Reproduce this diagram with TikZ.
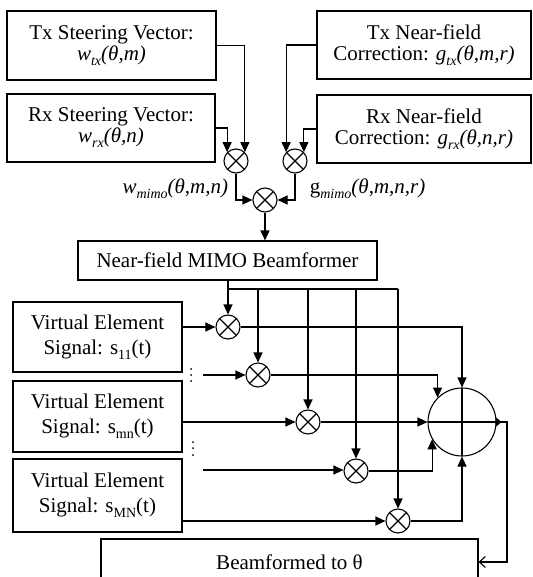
\documentclass[tikz,border=0pt]{standalone}
\usepackage{fontspec}
\setmainfont{Liberation Serif}
\usetikzlibrary{arrows.meta}
\newcommand\mysub[1]{\raisebox{-5pt}{\fontsize{14}{14}\selectfont #1}}
\begin{document}
\begin{tikzpicture}[x=1pt,y=-1pt,
  font=\fontsize{21}{21}\selectfont, line width=1.1pt,
  box/.style={draw, rectangle, inner sep=0pt, align=center},
  mult/.style={draw, circle, minimum size=24pt, inner sep=0pt,
    path picture={\draw (path picture bounding box.north west)--(path picture bounding box.south east)
      (path picture bounding box.north east)--(path picture bounding box.south west);}},
  adder/.style={draw, circle, minimum size=68pt, inner sep=0pt,
    path picture={\draw (path picture bounding box.north)--(path picture bounding box.south)
      (path picture bounding box.west)--(path picture bounding box.east);}},
  arr/.style={-{Triangle[length=10pt,width=9pt]}},
  oarr/.style={-{Straight Barb[length=6pt,width=11pt]}},
  dotmark/.style={fill, circle, inner sep=0pt, minimum size=2pt},
]
\useasboundingbox (0,0) rectangle (532,577);

% top boxes
\node[box, minimum width=209pt, minimum height=69pt] (txsv) at (111.5,45.5)
  {Tx Steering Vector:\\\textit{w\mysub{tx}(θ,m)}};
\node[box, minimum width=208pt, minimum height=68pt] (rxsv) at (111,128)
  {Rx Steering Vector:\\\textit{w\mysub{rx}(θ,n)}};
\node[box, minimum width=214pt, minimum height=68pt] (txnf) at (424,45)
  {Tx Near-field\\Correction: \textit{g\mysub{tx}(θ,m,r)}};
\node[box, minimum width=214pt, minimum height=68pt] (rxnf) at (424,129)
  {Rx Near-field\\Correction: \textit{g\mysub{rx}(θ,n,r)}};

% multipliers
\node[mult] (m1) at (236,161) {};
\node[mult] (m2) at (295,161) {};
\node[mult] (m3) at (265,200) {};

\draw[arr] (txsv.east) -| (m1.north east);
\draw[arr] (rxsv.east) -| (m1.north west);
\draw[arr] (txnf.west) -| (m2.north west);
\draw[arr] (rxnf.west) -| (m2.north east);
\draw[arr] (m1.south) |- (m3.west);
\draw[arr] (m2.south) |- (m3.east);

\node[anchor=east] (wl) at (232,189) {\textit{w\mysub{mimo}(θ,m,n)}};
\node[anchor=west] (gl) at (306,189) {g\textit{\mysub{mimo}(θ,m,n,r)}};

% beamformer
\node[box, minimum width=299pt, minimum height=39pt] (bf) at (227.5,260.5) {Near-field MIMO Beamformer};
\draw[arr] (m3.south) -- (m3.south |- bf.north);

% virtual elements
\node[box, minimum width=169pt, minimum height=70pt] (ve1) at (97.5,337)
  {Virtual Element\\[4pt]Signal: s\mysub{11}(t)};
\node[box, minimum width=169pt, minimum height=71pt] (ve2) at (97.5,416.5)
  {Virtual Element\\[4pt]Signal: s\mysub{mn}(t)};
\node[box, minimum width=169pt, minimum height=73pt] (ve3) at (97.5,495.5)
  {Virtual Element\\[4pt]Signal: s\mysub{MN}(t)};

% lower multipliers
\node[mult] (ma) at (228,327) {};
\node[mult] (mb) at (258,375) {};
\node[mult] (mc) at (308,422) {};
\node[mult] (md) at (356,471) {};
\node[mult] (me) at (398,521) {};

% adder
\node[adder] (sum) at (462,422) {};

% output box
\node[box, minimum width=377pt, minimum height=46pt] (out) at (289.5,562) {Beamformed to θ};

% distribution bus
\coordinate (b0) at (228,289);
\draw[arr] (bf.south -| ma) -- (ma.north);
\draw (b0) -- (b0 -| me);
\draw[arr] (b0 -| mb) -- (mb.north);
\draw[arr] (b0 -| mc) -- (mc.north);
\draw[arr] (b0 -| md) -- (md.north);
\draw[arr] (b0 -| me) -- (me.north);

% dots
\node[dotmark] (d1a) at (191,369) {};
\node[dotmark] (d1b) at (191,375) {};
\node[dotmark] (d1c) at (191,381) {};
\node[dotmark] (d2a) at (193,442) {};
\node[dotmark] (d2b) at (193,448) {};
\node[dotmark] (d2c) at (193,455) {};
\coordinate (s1) at (203,375);
\coordinate (s2) at (203,470);

% inputs
\draw[arr] (ve1.east |- ma.west) -- (ma.west);
\draw[arr] (s1) -- (mb.west);
\draw[arr] (ve2.east |- mc.west) -- (mc.west);
\draw[arr] (s2) -- (s2 -| md.west);
\draw[arr] (ve3.east |- me.west) -- (me.west);

% outputs to adder
\draw[arr] (ma.east) -| (sum.north);
\draw[arr] (mb.east) -| (sum.north west);
\draw[arr] (mc.east) -- (sum.west);
\draw[arr] (md.east) -| (sum.210);
\draw[arr] (me.east) -| (sum.south);

% adder output
\fill (sum.east) ++(-1,-5) -- ++(6,5) -- ++(-6,5) -- cycle;
\coordinate (c1) at (507,422);
\draw[oarr] (sum.east) -- (c1) |- (out.east);
\end{tikzpicture}
\end{document}
